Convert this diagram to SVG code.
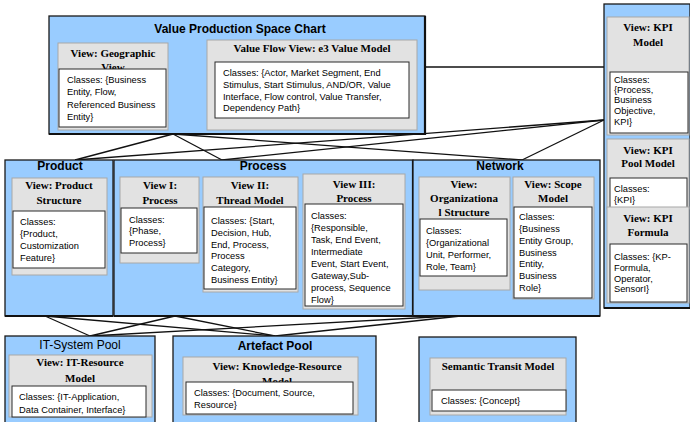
<svg xmlns="http://www.w3.org/2000/svg" width="690" height="422" viewBox="0 0 690 422">
<style>
.cont{fill:#99ccff;stroke:#1a1a1a;stroke-width:1.3}
.shadow{stroke:#111;stroke-width:2.2;fill:none}
.view{fill:#e2e2e2;stroke:#a8a8a8;stroke-width:1}
.cls{fill:#ffffff;stroke:#2a2a2a;stroke-width:1}
.ct{font-family:"Liberation Sans",Arial,sans-serif;font-weight:bold;font-size:12px;fill:#000;text-anchor:middle}
.ctn{font-family:"Liberation Sans",Arial,sans-serif;font-size:12px;fill:#000;text-anchor:middle}
.vt{font-family:"Liberation Serif","Times New Roman",serif;font-weight:bold;font-size:11px;fill:#000;text-anchor:middle}
.tx{font-family:"Liberation Sans",Arial,sans-serif;font-size:9.3px;fill:#000}
.conn line{stroke:#111;stroke-width:1.3}
</style>
<rect width="690" height="422" fill="#ffffff"/>

<g class="conn" id="connectors">
<line x1="173" y1="134" x2="75" y2="160"/>
<line x1="173" y1="134" x2="222" y2="160"/>
<line x1="173" y1="134" x2="522" y2="160"/>
<line x1="604" y1="120" x2="75" y2="160"/>
<line x1="604" y1="120" x2="222" y2="160"/>
<line x1="604" y1="120" x2="522" y2="160"/>
<line x1="425" y1="67" x2="604" y2="67"/>
<line x1="45" y1="316" x2="90" y2="336"/>
<line x1="45" y1="316" x2="275" y2="336"/>
<line x1="175" y1="316" x2="90" y2="336"/>
<line x1="175" y1="316" x2="275" y2="336"/>
<line x1="470" y1="315" x2="90" y2="336"/>
<line x1="470" y1="315" x2="275" y2="336"/>
</g>

<g id="value-production">
<rect class="cont" x="49" y="16" width="376" height="118"/>
<path class="shadow" d="M49,134H425V16"/>
<text class="ct" x="240" y="33">Value Production Space Chart</text>
</g>
<g id="geographic-view">
<rect class="view" x="58" y="43" width="110" height="87"/>
<text class="vt" x="113" y="57">View: Geographic</text>
<text class="vt" x="113" y="71">View</text>
<rect class="cls" x="59" y="69" width="107" height="58"/>
<text class="tx" x="67" y="83">Classes: {Business</text>
<text class="tx" x="67" y="95">Entity, Flow,</text>
<text class="tx" x="67" y="108">Referenced Business</text>
<text class="tx" x="67" y="120">Entity}</text>
</g>
<g id="value-flow-view">
<rect class="view" x="207" y="40" width="210" height="90"/>
<text class="vt" x="312" y="52">Value Flow View: e3 Value Model</text>
<rect class="cls" x="215" y="62" width="194" height="56"/>
<text class="tx" x="223" y="76">Classes: {Actor, Market Segment, End</text>
<text class="tx" x="223" y="88">Stimulus, Start Stimulus, AND/OR, Value</text>
<text class="tx" x="223" y="100">Interface, Flow control, Value Transfer,</text>
<text class="tx" x="223" y="111">Dependency Path}</text>
</g>

<g id="kpi-panel">
<rect class="cont" x="604" y="4" width="86" height="304"/>
<path class="shadow" d="M604,308H690"/>
</g>
<g id="kpi-model">
<rect class="view" x="607" y="17" width="82" height="118"/>
<text class="vt" x="648" y="31">View: KPI</text>
<text class="vt" x="648" y="46">Model</text>
<rect class="cls" x="610" y="72" width="78" height="61"/>
<text class="tx" x="614" y="83">Classes:</text>
<text class="tx" x="614" y="93">{Process,</text>
<text class="tx" x="614" y="103">Business</text>
<text class="tx" x="614" y="114">Objective,</text>
<text class="tx" x="614" y="125">KPI}</text>
</g>
<g id="kpi-pool-model">
<rect class="view" x="607" y="139" width="82" height="70"/>
<text class="vt" x="648" y="154">View: KPI</text>
<text class="vt" x="648" y="167">Pool Model</text>
<rect class="cls" x="610" y="178" width="77" height="30"/>
<text class="tx" x="614" y="192">Classes:</text>
<text class="tx" x="614" y="203">{KPI}</text>
</g>
<g id="kpi-formula">
<rect class="view" x="607" y="207" width="82" height="96"/>
<text class="vt" x="648" y="222">View: KPI</text>
<text class="vt" x="648" y="236">Formula</text>
<rect class="cls" x="610" y="244" width="77" height="58"/>
<text class="tx" x="614" y="260">Classes: {KP-</text>
<text class="tx" x="614" y="271">Formula,</text>
<text class="tx" x="614" y="282">Operator,</text>
<text class="tx" x="614" y="292">SensorI}</text>
</g>

<g id="product">
<rect class="cont" x="5" y="160" width="108" height="156"/>
<path class="shadow" d="M5,316H113"/>
<text class="ct" x="60" y="170">Product</text>
</g>
<g id="product-structure">
<rect class="view" x="12" y="178" width="95" height="97"/>
<text class="vt" x="59" y="189">View: Product</text>
<text class="vt" x="59" y="204">Structure</text>
<rect class="cls" x="13" y="211" width="92" height="57"/>
<text class="tx" x="20" y="225">Classes:</text>
<text class="tx" x="20" y="237">{Product,</text>
<text class="tx" x="20" y="249">Customization</text>
<text class="tx" x="20" y="261">Feature}</text>
</g>

<g id="process">
<rect class="cont" x="114" y="160" width="299" height="156"/>
<path class="shadow" d="M114,316H413V160"/>
<text class="ct" x="263" y="170">Process</text>
</g>
<g id="view-i-process">
<rect class="view" x="120" y="177" width="79" height="86"/>
<text class="vt" x="160" y="189">View I:</text>
<text class="vt" x="160" y="204">Process</text>
<rect class="cls" x="121" y="208" width="76" height="45"/>
<text class="tx" x="129" y="223">Classes:</text>
<text class="tx" x="129" y="234">{Phase,</text>
<text class="tx" x="129" y="246">Process}</text>
</g>
<g id="view-ii-thread">
<rect class="view" x="203" y="177" width="95" height="115"/>
<text class="vt" x="250" y="189">View II:</text>
<text class="vt" x="250" y="204">Thread Model</text>
<rect class="cls" x="204" y="207" width="92" height="82"/>
<text class="tx" x="211" y="224">Classes: {Start,</text>
<text class="tx" x="211" y="236">Decision, Hub,</text>
<text class="tx" x="211" y="248">End, Process,</text>
<text class="tx" x="211" y="259">Process</text>
<text class="tx" x="211" y="271">Category,</text>
<text class="tx" x="211" y="283">Business Entity}</text>
</g>
<g id="view-iii-process">
<rect class="view" x="303" y="174" width="102" height="135"/>
<text class="vt" x="354" y="188">View III:</text>
<text class="vt" x="354" y="202">Process</text>
<rect class="cls" x="305" y="204" width="98" height="102"/>
<text class="tx" x="311" y="219">Classes:</text>
<text class="tx" x="311" y="231">{Responsible,</text>
<text class="tx" x="311" y="243">Task, End Event,</text>
<text class="tx" x="311" y="255">Intermediate</text>
<text class="tx" x="311" y="267">Event, Start Event,</text>
<text class="tx" x="311" y="279">Gateway,Sub-</text>
<text class="tx" x="311" y="291">process, Sequence</text>
<text class="tx" x="311" y="303">Flow}</text>
</g>

<g id="network">
<rect class="cont" x="413" y="160" width="187" height="156"/>
<path class="shadow" d="M413,316H600"/>
<text class="ct" x="500" y="170">Network</text>
</g>
<g id="org-structure">
<rect class="view" x="419" y="177" width="91" height="113"/>
<text class="vt" x="464" y="188">View:</text>
<text class="vt" x="464" y="202">Organizationa</text>
<text class="vt" x="464" y="216">l Structure</text>
<rect class="cls" x="420" y="219" width="87" height="57"/>
<text class="tx" x="426" y="234">Classes:</text>
<text class="tx" x="426" y="246">{Organizational</text>
<text class="tx" x="426" y="258">Unit, Performer,</text>
<text class="tx" x="426" y="270">Role, Team}</text>
</g>
<g id="scope-model">
<rect class="view" x="513" y="177" width="81" height="122"/>
<text class="vt" x="553" y="188">View: Scope</text>
<text class="vt" x="553" y="202">Model</text>
<rect class="cls" x="514" y="207" width="78" height="91"/>
<text class="tx" x="519" y="220">Classes:</text>
<text class="tx" x="519" y="232">{Business</text>
<text class="tx" x="519" y="244">Entity Group,</text>
<text class="tx" x="519" y="256">Business</text>
<text class="tx" x="519" y="267">Entity,</text>
<text class="tx" x="519" y="279">Business</text>
<text class="tx" x="519" y="291">Role}</text>
</g>

<g id="it-system-pool">
<rect class="cont" x="5" y="336" width="150" height="90"/>
<text class="ctn" x="80" y="349">IT-System Pool</text>
</g>
<g id="it-resource-model">
<rect class="view" x="9" y="355" width="143" height="62"/>
<text class="vt" x="80" y="366">View: IT-Resource</text>
<text class="vt" x="80" y="382">Model</text>
<rect class="cls" x="12" y="386" width="134" height="31"/>
<text class="tx" x="19" y="400">Classes: {IT-Application,</text>
<text class="tx" x="19" y="413">Data Container, Interface}</text>
</g>

<g id="artefact-pool">
<rect class="cont" x="173" y="336" width="203" height="90"/>
<text class="ct" x="275" y="350">Artefact Pool</text>
</g>
<g id="knowledge-resource-model">
<rect class="view" x="183" y="357" width="175" height="58"/>
<text class="vt" x="277" y="370">View: Knowledge-Resource</text>
<text class="vt" x="277" y="385">Model</text>
<rect class="cls" x="186" y="382" width="167" height="32"/>
<text class="tx" x="194" y="396">Classes: {Document, Source,</text>
<text class="tx" x="194" y="408">Resource}</text>
</g>

<g id="semantic-transit">
<rect class="cont" x="419" y="337" width="157" height="90"/>
</g>
<g id="semantic-transit-model">
<rect class="view" x="430" y="358" width="136" height="57"/>
<text class="vt" x="498" y="370">Semantic Transit Model</text>
<rect class="cls" x="432" y="390" width="134" height="21"/>
<text class="tx" x="441" y="404">Classes: {Concept}</text>
</g>
</svg>
